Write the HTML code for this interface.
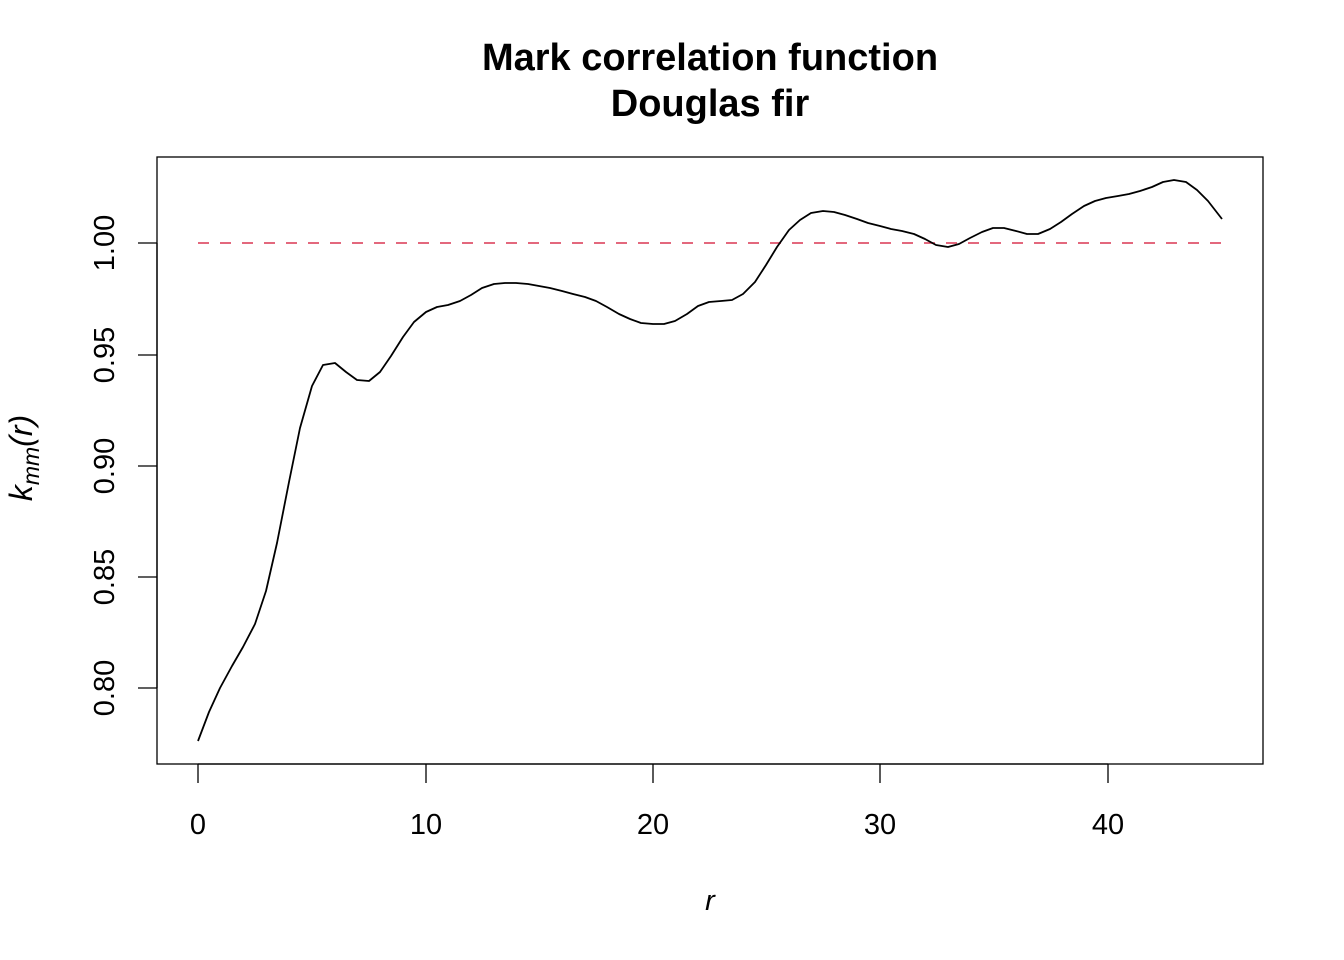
<!DOCTYPE html>
<html><head><meta charset="utf-8"><style>body{margin:0;background:#fff}svg{display:block}</style></head><body>
<svg width="1344" height="960" xmlns="http://www.w3.org/2000/svg" font-family="Liberation Sans, Arial, sans-serif">
<rect width="1344" height="960" fill="#fff"/>
<text x="710" y="70" font-size="38" font-weight="bold" text-anchor="middle">Mark correlation function</text>
<text x="710" y="116" font-size="38" font-weight="bold" text-anchor="middle">Douglas fir</text>
<rect x="157" y="157" width="1106" height="607" fill="none" stroke="#000" stroke-width="1.3"/>
<line x1="198" y1="243" x2="1222" y2="243" stroke="#DF536B" stroke-width="1.8" stroke-dasharray="11,11"/>
<polyline fill="none" stroke="#000" stroke-width="1.8" stroke-linejoin="round" points="198,741 209,712 220,688 232,666 243,647 255,624 266,591 277,543 289,482 300,428 312,386 323,365 335,363 346,372 357,380 369,381 380,372 391,356 403,337 414,322 426,312 437,307 448,305 460,301 471,295 482,288 494,284 505,283 516,283 528,284 539,286 550,288 562,291 573,294 585,297 596,301 607,307 619,314 630,319 641,323 653,324 664,324 675,321 687,314 698,306 709,302 721,301 732,300 743,294 755,282 766,265 777,247 789,230 800,220 811,213 823,211 834,212 845,215 857,219 868,223 880,226 891,229 902,231 914,234 925,239 936,245 948,247 959,244 970,238 982,232 993,228 1004,228 1016,231 1027,234 1038,234 1050,229 1061,222 1072,214 1084,206 1095,201 1106,198 1118,196 1129,194 1140,191 1152,187 1163,182 1174,180 1186,182 1197,190 1208,201 1222,219"/>
<g stroke="#000" stroke-width="1.3">
<line x1="198" y1="764" x2="1108" y2="764"/>
<line x1="198" y1="764" x2="198" y2="783"/><line x1="426" y1="764" x2="426" y2="783"/><line x1="653" y1="764" x2="653" y2="783"/><line x1="880" y1="764" x2="880" y2="783"/><line x1="1108" y1="764" x2="1108" y2="783"/>
<line x1="157" y1="243" x2="157" y2="688"/>
<line x1="138" y1="243" x2="157" y2="243"/><line x1="138" y1="355" x2="157" y2="355"/><line x1="138" y1="466" x2="157" y2="466"/><line x1="138" y1="577" x2="157" y2="577"/><line x1="138" y1="688" x2="157" y2="688"/>
</g>
<g font-size="29" text-anchor="middle">
<text x="198" y="834">0</text><text x="426" y="834">10</text><text x="653" y="834">20</text><text x="880" y="834">30</text><text x="1108" y="834">40</text>
<text transform="translate(114,243) rotate(-90)">1.00</text>
<text transform="translate(114,355) rotate(-90)">0.95</text>
<text transform="translate(114,466) rotate(-90)">0.90</text>
<text transform="translate(114,577) rotate(-90)">0.85</text>
<text transform="translate(114,688) rotate(-90)">0.80</text>
<text x="710" y="910" font-style="italic">r</text>
</g>
<text transform="translate(32,458) rotate(-90)" font-size="32" text-anchor="middle" font-style="italic">k<tspan font-size="23" dy="7">mm</tspan><tspan dy="-7">(r)</tspan></text>
</svg>
</body></html>
